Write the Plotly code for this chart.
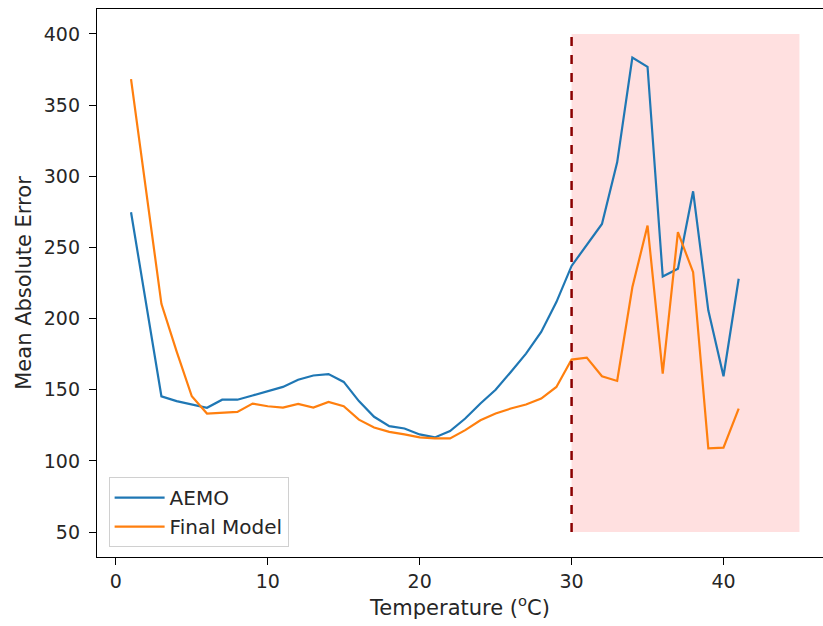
import plotly.graph_objects as go

temperature = list(range(1, 42))
aemo = [274.7, 210, 145.4, 142, 139.4, 137.3, 143, 143, 146, 149,
        152, 157, 160, 161, 155.5, 142, 131, 124.4, 122.8, 118.6,
        116.5, 121, 129.8, 140.3, 150, 162.5, 175.4, 190.6, 211.6, 237,
        252, 266.5, 309.8, 383.4, 376.9, 229.6, 235, 289.4, 205.8, 159.5,
        228]
final_model = [368.2, 290, 210.4, 177, 145.4, 133.3, 133.7, 134.4, 140.3, 138.4,
               137.5, 140, 137.5, 141.5, 138.4, 129, 123.5, 120.4, 118.6, 116.5,
               115.8, 115.8, 121.6, 128.6, 133.3, 136.8, 139.6, 143.8, 152, 171.2,
               172.6, 159.5, 156.2, 222, 265.4, 161.3, 260.7, 232.6, 108.8, 109.3,
               136.8]
threshold = 30
shade_x = [30, 45]
shade_y = [50, 400]
x_ticks = [0, 10, 20, 30, 40]
y_ticks = [50, 100, 150, 200, 250, 300, 350, 400]

font_family = "DejaVu Sans"
text_color = "#262626"

fig = go.Figure()
fig.add_shape(type="rect", x0=shade_x[0], x1=shade_x[1], y0=shade_y[0], y1=shade_y[1],
              xref="x", yref="y", fillcolor="rgba(255,0,0,0.12)", line_width=0, layer="below")
fig.add_trace(go.Scatter(x=temperature, y=aemo, mode="lines", name="AEMO",
                         line=dict(color="#1f77b4", width=2.2)))
fig.add_trace(go.Scatter(x=temperature, y=final_model, mode="lines", name="Final Model",
                         line=dict(color="#ff7f0e", width=2.2)))
fig.add_shape(type="line", x0=threshold, x1=threshold, y0=shade_y[0], y1=shade_y[1],
              xref="x", yref="y", line=dict(color="#8b0000", width=2.5, dash="dash"))

fig.update_layout(
    width=823, height=626,
    margin=dict(l=97, r=0, t=9, b=69),
    paper_bgcolor="white", plot_bgcolor="white",
    font=dict(family=font_family, size=19, color=text_color),
    showlegend=True,
    legend=dict(x=0.016, y=0.018, xanchor="left", yanchor="bottom",
                bgcolor="rgba(255,255,255,0.8)", bordercolor="#d0d0d0", borderwidth=1,
                font=dict(size=20, family=font_family, color=text_color),
                itemwidth=50, tracegroupgap=0),
)
fig.update_xaxes(range=[-1.24, 46.55], tickvals=x_ticks, ticks="outside", ticklen=7,
                 tickcolor="black", showline=True, linecolor="black", linewidth=1.3,
                 mirror=True, showgrid=False, zeroline=False,
                 title=dict(text="Temperature (<sup>o</sup>C)", standoff=6,
                            font=dict(size=21, color=text_color)),
                 tickfont=dict(size=19, color=text_color))
fig.update_yaxes(range=[32.5, 417.5], tickvals=y_ticks, ticks="outside", ticklen=7,
                 tickcolor="black", showline=True, linecolor="black", linewidth=1.3,
                 showgrid=False, zeroline=False, ticklabelstandoff=5,
                 title=dict(text="Mean Absolute Error", standoff=6,
                            font=dict(size=21, color=text_color)),
                 tickfont=dict(size=19, color=text_color))

fig.write_html("out.html")
